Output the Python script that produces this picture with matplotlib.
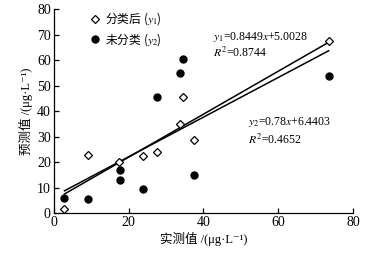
import matplotlib
matplotlib.use("Agg")
import matplotlib.pyplot as plt
import numpy as np

plt.rcParams['mathtext.fontset'] = 'stix'
SERIF = ['Liberation Serif', 'DejaVu Serif', 'Noto Sans CJK SC']
CJK = 'Noto Sans CJK SC'

# data
x_classified = [2.9, 9.1, 17.4, 23.8, 27.6, 33.6, 34.6, 37.4, 73.4]
y_classified = [1.6, 22.8, 20.0, 22.2, 24.1, 34.9, 45.5, 28.8, 67.6]
x_unclassified = [2.9, 9.1, 17.6, 17.6, 23.8, 27.6, 33.6, 34.6, 37.5, 73.4]
y_unclassified = [5.8, 5.6, 17.0, 12.8, 9.5, 45.7, 55.1, 60.4, 15.0, 53.6]
fit1 = (0.8449, 5.0028)
fit2 = (0.78, 6.4403)
x_ticks = [0, 20, 40, 60, 80]
y_ticks = [0, 10, 20, 30, 40, 50, 60, 70, 80]

fig = plt.figure(figsize=(3.8, 2.56), dpi=100)
ax = fig.add_axes([0.141, 0.168, 0.789, 0.796])

xs = np.array([min(x_classified), max(x_classified)])
ax.plot(xs, fit1[0] * xs + fit1[1], color='black', lw=1.1, zorder=2)
ax.plot(xs, fit2[0] * xs + fit2[1], color='black', lw=1.1, zorder=2)

h1, = ax.plot(x_classified, y_classified, linestyle='none', marker='D', ms=3.6,
              mfc='white', mec='black', mew=0.9, zorder=3)
h2, = ax.plot(x_unclassified, y_unclassified, linestyle='none', marker='o', ms=5,
              mfc='black', mec='black', zorder=3)

ax.set_xlim(0, 80)
ax.set_ylim(0, 80)
ax.set_xticks(x_ticks)
ax.set_yticks(y_ticks)
for s in ['top', 'right']:
    ax.spines[s].set_visible(False)
for s in ['left', 'bottom']:
    ax.spines[s].set_linewidth(0.9)
ax.tick_params(direction='in', length=3.5, width=0.9, labelsize=10, pad=2)
for lab in ax.get_xticklabels() + ax.get_yticklabels():
    lab.set_family(SERIF)

ax.set_xlabel('实测值 /(μg·L⁻¹)', family=SERIF, fontsize=9, labelpad=2)
ax.set_ylabel('预测值 /(μg·L⁻¹)', family=SERIF, fontsize=9, labelpad=3)

leg = ax.legend([h1, h2], ['分类后 ($y_1$)', '未分类 ($y_2$)'], loc='upper left',
                bbox_to_anchor=(0.09, 1.035), frameon=False, handlelength=1.0,
                handletextpad=0.4, labelspacing=0.3, borderaxespad=0.3,
                prop={'family': CJK, 'size': 8.5})

ax.text(42.5, 69.2, '$y_1$=0.8449$x$+5.0028', family=SERIF, fontsize=8.5, va='center', ha='left')
ax.text(42.5, 62.9, '$R^2$=0.8744', family=SERIF, fontsize=8.5, va='center', ha='left')
ax.text(51.9, 35.8, '$y_2$=0.78$x$+6.4403', family=SERIF, fontsize=8.5, va='center', ha='left')
ax.text(51.9, 28.7, '$R^2$=0.4652', family=SERIF, fontsize=8.5, va='center', ha='left')

fig.savefig('out.png', dpi=100)
